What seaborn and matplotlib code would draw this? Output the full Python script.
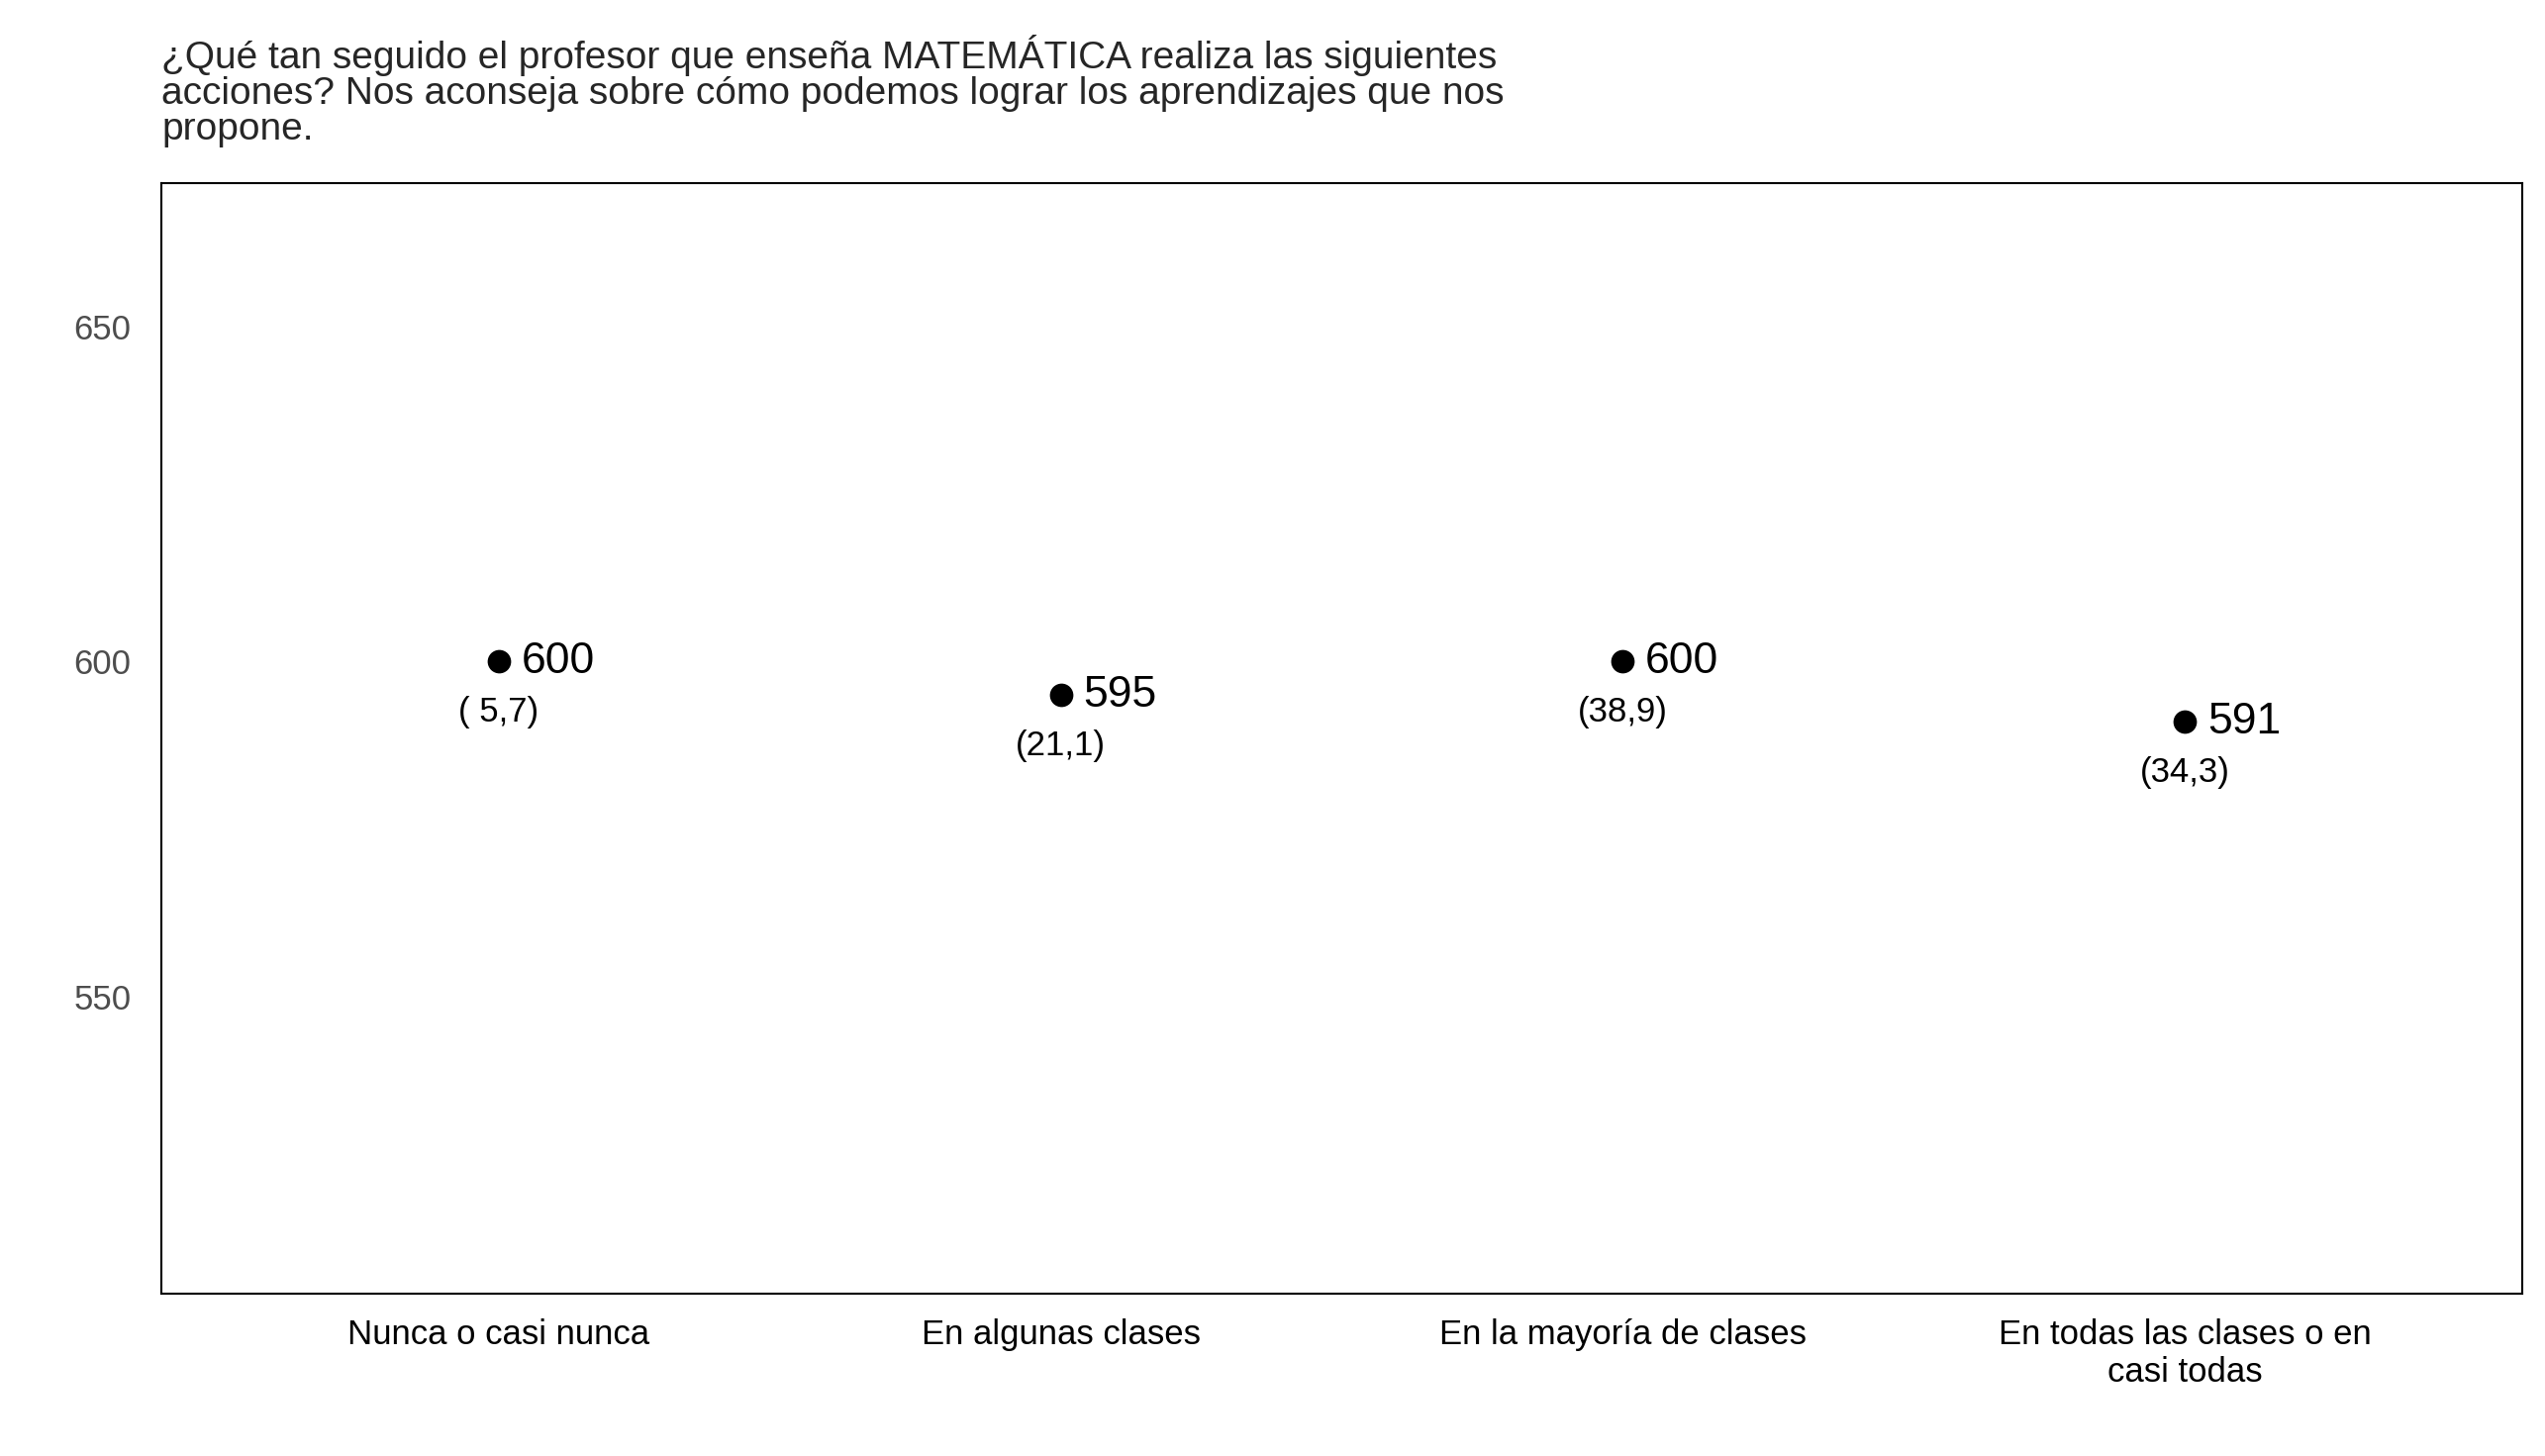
import matplotlib
matplotlib.use("Agg")
import matplotlib.pyplot as plt
import seaborn as sns
import pandas as pd

categories = ["Nunca o casi nunca", "En algunas clases", "En la mayoría de clases", "En todas las clases o en\ncasi todas"]
values = [600, 595, 600, 591]
values_txt = ["600", "595", "600", "591"]
pct_txt = ["( 5,7)", "(21,1)", "(38,9)", "(34,3)"]
title = "¿Qué tan seguido el profesor que enseña MATEMÁTICA realiza las siguientes\nacciones? Nos aconseja sobre cómo podemos lograr los aprendizajes que nos\npropone."

sns.set_theme(style="white")
plt.rcParams['font.family'] = ['Liberation Sans', 'DejaVu Sans']

df = pd.DataFrame({"cat": categories, "val": values})
fig = plt.figure(figsize=(25.71, 14.71), dpi=100)
ax = fig.add_axes([163/2571, 1 - 1307/1471, (2548-163)/2571, (1307-185)/1471])
sns.scatterplot(data=df, x="cat", y="val", ax=ax, color="black", s=250, edgecolor="black", zorder=3)
for i, (v, t, p) in enumerate(zip(values, values_txt, pct_txt)):
    ax.text(i + 0.04, v, t, fontsize=32, va="center", ha="left", color="black")
    ax.text(i, v - 7.5, p, fontsize=25, va="center", ha="center", color="black")
ax.set_xlim(-0.6, 3.6)
ax.set_ylim(505.7, 671.4)
ax.set_yticks([550, 600, 650])
ax.set_xlabel("")
ax.set_ylabel("")
ax.tick_params(axis="y", labelsize=25, labelcolor="#4d4d4d", length=0, pad=22)
ax.tick_params(axis="x", labelsize=25, labelcolor="black", length=0, pad=18)
for s in ax.spines.values():
    s.set_color("black")
    s.set_linewidth(1.5)
fig.text(163/2571, 1 - 35/1471, title, fontsize=28, va="top", ha="left", linespacing=1.0)
fig.savefig("out.png", dpi=100)
